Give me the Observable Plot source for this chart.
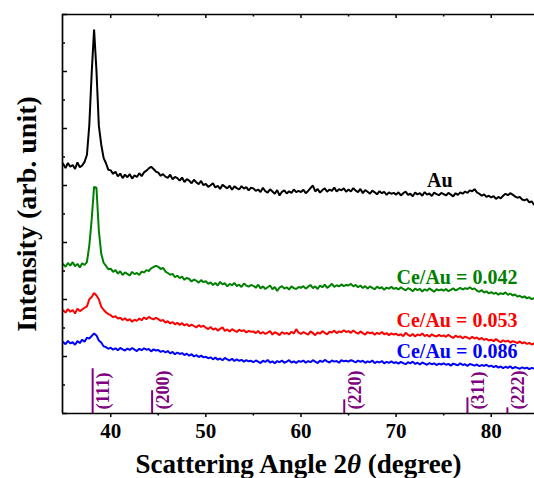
<!DOCTYPE html>
<html><head><meta charset="utf-8">
<script src="https://cdn.jsdelivr.net/npm/d3@7"></script>
<script src="https://cdn.jsdelivr.net/npm/@observablehq/plot@0.6"></script>
<style>body{margin:0;background:#fff} svg{display:block}</style>
</head><body><div id="chart"></div>
<script>
// 2θ grid of the scans (degrees)
const angleStart = 35, angleStep = 0.25;

// Intensity (arb. unit), one value per 0.25° from 35° to 84.5°
const au = [
876,861,879,866,872,858,881,864,870,883,908,1013,1196,1347,1203,1010,944,897,878,855,
853,841,848,832,842,826,838,829,840,824,836,830,843,833,846,852,860,866,858,849,
845,834,840,831,827,838,822,830,826,817,828,812,822,817,808,820,811,805,816,801,
806,795,801,808,793,799,788,803,796,790,799,785,797,791,786,798,789,794,783,792,
790,781,786,777,792,780,775,787,779,771,784,765,778,783,772,780,774,786,777,781,
777,785,773,781,791,800,779,788,775,784,790,778,786,781,793,779,787,783,790,778,
786,779,791,782,777,788,773,784,778,771,782,776,769,780,773,778,767,776,771,774,
768,776,765,773,779,767,771,762,775,769,773,764,777,768,772,763,775,770,766,774,
770,765,774,768,762,773,767,776,771,779,774,783,780,787,776,771,764,769,760,764,
758,763,753,760,755,764,771,766,773,768,762,757,760,751,748,752,741,744,733];
const ce042 = [
524,515,528,519,531,517,525,512,527,521,532,590,682,795,792,642,561,529,518,506,
508,497,503,491,499,486,495,490,484,497,489,493,486,498,495,503,500,509,514,518,
515,507,511,498,493,487,490,478,484,475,480,469,476,472,463,470,466,459,468,461,
464,455,460,451,458,449,462,453,457,446,455,450,458,447,452,444,456,449,445,451,
448,441,452,439,446,437,443,449,436,444,430,442,447,438,443,435,446,440,437,444,
441,447,438,445,451,440,446,437,449,443,452,441,447,455,444,450,446,453,447,451,
449,455,446,451,443,449,440,447,438,446,441,436,445,439,443,434,442,438,445,437,
441,435,443,437,432,440,436,429,438,433,437,428,436,431,439,433,427,436,432,435,
431,437,429,434,439,432,436,441,435,440,437,443,436,439,431,427,433,424,429,421,
426,420,424,417,422,419,425,416,421,414,418,410,413,407,411,404,408,401,405];
const ce053 = [
362,354,366,357,363,351,368,359,365,371,376,401,409,423,414,401,375,364,355,349,
345,338,341,333,336,328,334,326,331,322,329,325,333,327,337,331,339,334,330,336,
331,325,328,319,324,316,321,313,318,311,317,309,314,306,312,307,302,310,304,308,
301,296,304,294,299,291,297,302,290,295,288,296,291,286,294,289,292,284,290,287,
288,282,290,280,286,279,284,289,277,285,281,275,286,280,283,278,287,281,296,284,
279,286,281,277,288,282,275,285,280,289,283,278,287,284,291,282,288,285,292,286,
289,283,291,285,280,288,282,277,286,281,284,276,283,279,286,278,282,275,281,277,
280,274,278,271,283,276,272,279,270,277,274,281,272,276,269,278,273,270,276,271,
274,269,276,270,265,273,268,271,264,270,266,262,269,263,267,260,265,258,262,256,
259,254,261,255,250,257,252,256,249,254,251,247,253,246,250,244,248,242,246];
const ce086 = [
251,243,255,246,250,241,254,247,259,252,266,263,272,281,274,256,249,236,233,227,
231,224,229,222,230,225,221,228,223,230,224,219,227,222,229,224,226,218,225,221,
223,216,220,214,219,211,216,208,214,209,212,205,210,203,208,200,205,198,203,197,
199,194,197,190,196,189,193,187,195,190,186,192,184,190,185,188,182,187,183,185,
180,186,182,177,185,181,188,179,183,176,184,180,186,178,182,187,179,183,177,184,
181,186,178,184,180,187,182,177,185,181,188,183,179,186,182,184,178,187,183,185,
182,187,184,179,186,181,185,178,183,180,186,177,182,179,184,176,181,178,183,177,
180,175,181,177,173,180,176,182,174,178,172,179,175,171,177,173,176,170,175,172,
176,171,174,168,175,172,169,176,170,173,167,174,171,168,172,166,170,167,171,165,
168,163,167,161,165,159,164,160,166,158,163,160,157,162,158,161,156,160,158];

const seriesNames = ["Au", "Ce/Au = 0.042", "Ce/Au = 0.053", "Ce/Au = 0.086"];
const seriesColors = ["#000000", "#008000", "#ff0000", "#0000ff"];
const labelAngles = [74.6, 76.4, 76.4, 76.4];
const labelLevels = [817, 477, 327, 217];

// Au reference reflections (JCPDS)
const reflLabels = ["(111)", "(200)", "(220)", "(311)", "(222)"];
const reflAngles = [38.1, 44.35, 64.55, 77.5, 81.7];
const reflHeights = [157, 80, 48, 55, 20];

const xDomain = [34.93, 84.55];
const yDomain = [0, 1400];
const xTicks = [40, 50, 60, 70, 80];
const xMinorTicks = [45, 55, 65, 75];
const yMajorTicks = [0, 200, 400, 600, 800, 1000, 1200, 1400];
const yMinorTicks = [100, 300, 500, 700, 900, 1100, 1300];
const xLabel = "Scattering Angle 2θ (degree)";
const yLabel = "Intensity (arb. unit)";

const seriesValues = [au, ce042, ce053, ce086];
const rows = seriesValues.flatMap((vals, s) => vals.map((v, i) => ({
  angle: angleStart + i * angleStep, intensity: v, series: seriesNames[s]
})));
const labels = seriesNames.map((n, i) => ({name: n, angle: labelAngles[i], level: labelLevels[i], color: seriesColors[i]}));
const refl = reflLabels.map((r, i) => ({hkl: r, angle: reflAngles[i], h: reflHeights[i]}));

const W = 534, H = 478, mL = 62, mR = 0, mT = 14, mB = 65;
const fw = W - mL - mR, fh = H - mT - mB;
const serif = "'Liberation Serif', 'Times New Roman', serif";
const purple = "#800080";

const chart = Plot.plot({
  width: W, height: H,
  marginLeft: mL, marginRight: mR, marginTop: mT, marginBottom: mB,
  x: {domain: xDomain, axis: null},
  y: {domain: yDomain, axis: null},
  color: {domain: seriesNames, range: seriesColors},
  style: {fontFamily: serif, background: "white", color: "black"},
  marks: [
    Plot.ruleX(refl, {x: "angle", y1: 0, y2: "h", stroke: purple, strokeWidth: 2}),
    Plot.text(refl, {x: "angle", y: 0, text: "hkl", rotate: -90, textAnchor: "start", lineAnchor: "top",
      dx: 4, dy: -4, fill: purple, fontSize: 18, fontWeight: "bold"}),
    Plot.line(rows, {x: "angle", y: "intensity", stroke: "series", strokeWidth: 2, strokeLinejoin: "miter"}),
    Plot.text(labels, {x: "angle", y: "level", text: "name", fill: "color", fontSize: 20, fontWeight: "bold"}),
    Plot.ruleY([yDomain[0], yDomain[1]], {stroke: "black", strokeWidth: 1.7}),
    Plot.ruleX([xDomain[0]], {stroke: "black", strokeWidth: 1.7}),
    Plot.tickX(xTicks, {x: d => d, insetTop: fh - 4, dy: 4, stroke: "black", strokeWidth: 1.5}),
    Plot.tickX(xMinorTicks, {x: d => d, insetTop: fh - 2.5, dy: 2.5, stroke: "black", strokeWidth: 1.5}),
    Plot.tickX(xTicks, {x: d => d, insetBottom: fh - 4, stroke: "black", strokeWidth: 1.5}),
    Plot.tickX(xMinorTicks, {x: d => d, insetBottom: fh - 2.5, stroke: "black", strokeWidth: 1.5}),
    Plot.tickY(yMajorTicks, {y: d => d, insetRight: fw - 5, stroke: "black", strokeWidth: 1.5}),
    Plot.tickY(yMinorTicks, {y: d => d, insetRight: fw - 3, stroke: "black", strokeWidth: 1.5}),
    Plot.text(xTicks, {x: d => d, text: d => String(d), frameAnchor: "bottom", dy: 24, lineAnchor: "bottom",
      fontSize: 21, fontWeight: "bold", fill: "black"}),
    Plot.text([xLabel], {text: d => d, frameAnchor: "bottom", dy: 59, lineAnchor: "bottom",
      fontSize: 27, fontWeight: "bold", fill: "black"}),
    Plot.text([yLabel], {text: d => d, frameAnchor: "left", dx: -27, rotate: -90, lineAnchor: "bottom",
      textAnchor: "middle", fontSize: 28, fontWeight: "bold", fill: "black"})
  ]
});
document.getElementById("chart").appendChild(chart);

// italic θ in the x-axis title
chart.querySelectorAll("text").forEach(t => {
  if (t.textContent === xLabel) {
    const parts = xLabel.split("θ");
    t.textContent = "";
    const ns = "http://www.w3.org/2000/svg";
    const a = document.createElementNS(ns, "tspan"); a.textContent = parts[0];
    const th = document.createElementNS(ns, "tspan"); th.textContent = "θ"; th.setAttribute("font-style", "italic");
    const b = document.createElementNS(ns, "tspan"); b.textContent = parts[1];
    t.append(a, th, b);
  }
});
</script>
</body></html>
